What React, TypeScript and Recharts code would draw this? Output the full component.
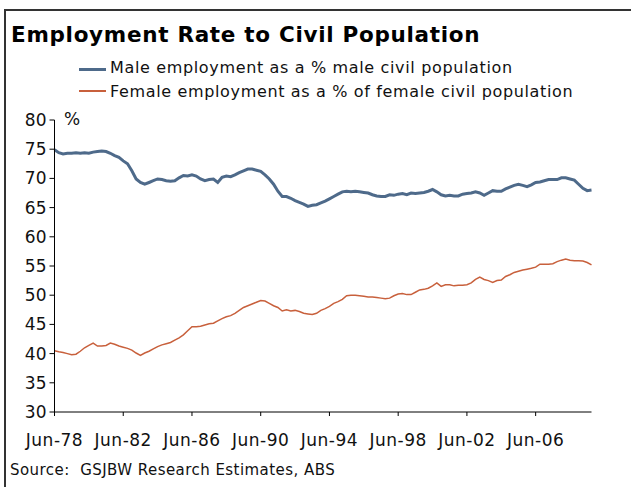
import { LineChart, Line, XAxis, YAxis } from 'recharts';

// quarterly readings, Jun-78 .. Sep-09
const male = [
  74.9, 74.4, 74.2, 74.3, 74.3, 74.4, 74.3, 74.4, 74.3, 74.5, 74.6, 74.7, 74.6, 74.3, 73.9, 73.6,
  73.0, 72.5, 71.3, 69.9, 69.3, 69.0, 69.3, 69.6, 69.9, 69.8, 69.6, 69.5, 69.6, 70.1, 70.5, 70.4,
  70.6, 70.4, 69.9, 69.6, 69.8, 69.9, 69.3, 70.2, 70.4, 70.3, 70.6, 71.0, 71.3, 71.6, 71.6, 71.4,
  71.2, 70.6, 69.9, 69.0, 67.8, 66.9, 66.9, 66.6, 66.2, 65.9, 65.6, 65.2, 65.4, 65.5, 65.8, 66.1,
  66.5, 66.9, 67.3, 67.7, 67.8, 67.7, 67.8, 67.7, 67.6, 67.5, 67.2, 67.0, 66.9, 66.9, 67.2, 67.1,
  67.3, 67.4, 67.2, 67.5, 67.4, 67.5, 67.6, 67.8, 68.1, 67.7, 67.2, 67.0, 67.1, 67.0, 67.0, 67.3,
  67.4, 67.5, 67.7, 67.5, 67.1, 67.5, 67.9, 67.8, 67.8, 68.2, 68.5, 68.8, 69.0, 68.8, 68.6, 68.9,
  69.3, 69.4, 69.6, 69.8, 69.8, 69.8, 70.1, 70.1, 69.9, 69.7, 69.0, 68.3, 67.9, 68.0,
];

const female = [
  40.5, 40.3, 40.2, 40.0, 39.8, 39.9, 40.4, 41.0, 41.4, 41.8, 41.3, 41.3, 41.4, 41.8, 41.6, 41.3,
  41.1, 40.9, 40.6, 40.1, 39.7, 40.1, 40.4, 40.8, 41.2, 41.5, 41.7, 41.9, 42.3, 42.7, 43.2, 43.9,
  44.6, 44.6, 44.7, 44.9, 45.1, 45.2, 45.6, 46.0, 46.3, 46.5, 46.9, 47.4, 47.9, 48.2, 48.5, 48.8,
  49.1, 49.0, 48.6, 48.2, 47.9, 47.3, 47.5, 47.3, 47.4, 47.2, 46.9, 46.8, 46.7, 46.9, 47.4, 47.7,
  48.1, 48.6, 48.9, 49.3, 49.9, 50.0, 50.0, 49.9, 49.8, 49.7, 49.7, 49.6, 49.5, 49.4, 49.5, 49.9,
  50.2, 50.3, 50.1, 50.1, 50.5, 50.9, 51.0, 51.2, 51.6, 52.1, 51.5, 51.8, 51.8, 51.6, 51.7, 51.7,
  51.8, 52.1, 52.7, 53.1, 52.7, 52.5, 52.2, 52.5, 52.6, 53.2, 53.5, 53.9, 54.1, 54.3, 54.45, 54.6,
  54.8, 55.3, 55.3, 55.3, 55.4, 55.75, 56.0, 56.2, 56.0, 55.9, 55.9, 55.85, 55.6, 55.2,
];

const quarterMonths = ['Jun', 'Sep', 'Dec', 'Mar'];
const xTicks = ['Jun-78', 'Jun-82', 'Jun-86', 'Jun-90', 'Jun-94', 'Jun-98', 'Jun-02', 'Jun-06'];
const yTicks = [30, 35, 40, 45, 50, 55, 60, 65, 70, 75, 80];

// label each quarter, starting Jun-78
const dates = male.map((_, i) => {
  const q = i % 4;
  const year = 1978 + Math.floor(i / 4) + (q === 3 ? 1 : 0);
  return `${quarterMonths[q]}-${String(year % 100).padStart(2, '0')}`;
});

const data = dates.map((date, i) => ({ date, male: male[i], female: female[i] }));

const font = '"DejaVu Sans", Verdana, sans-serif';

export default function App() {
  return (
    <div style={{ position: 'absolute', left: 0, top: 0, width: 631, height: 487, background: '#fff', fontFamily: font, overflow: 'hidden' }}>
      <div style={{ position: 'absolute', left: 4, top: 9, width: 2, height: 478, background: '#333' }} />
      <div style={{ position: 'absolute', left: 4, top: 9, width: 627, height: 2, background: '#333' }} />

      <div style={{ position: 'absolute', left: 11, top: 22, fontSize: 21.5, letterSpacing: 0.7, fontWeight: 'bold', color: '#000', whiteSpace: 'nowrap' }}>
        Employment Rate to Civil Population
      </div>

      <div style={{ position: 'absolute', left: 79, top: 68, width: 27, height: 3, background: '#4e6a8a' }} />
      <div style={{ position: 'absolute', left: 110, top: 58, fontSize: 16, letterSpacing: 0.65, color: '#111', whiteSpace: 'nowrap' }}>
        Male employment as a % male civil population
      </div>
      <div style={{ position: 'absolute', left: 79, top: 90, width: 27, height: 1.5, background: '#c8603c' }} />
      <div style={{ position: 'absolute', left: 110, top: 82, fontSize: 16, letterSpacing: 0.65, color: '#111', whiteSpace: 'nowrap' }}>
        Female employment as a % of female civil population
      </div>

      <div style={{ position: 'absolute', left: 64, top: 109, fontSize: 17, color: '#111' }}>%</div>

      <div style={{ position: 'absolute', left: 0 }}>
        <LineChart width={631} height={487} data={data} margin={{ top: 120, right: 39.5, bottom: 45, left: 0 }}>
          <XAxis
            dataKey="date"
            ticks={xTicks}
            interval={0}
            height={30}
            tickSize={4}
            tickMargin={18}
            stroke="#000"
            tick={{ fill: '#111', fontSize: 17, fontFamily: font, letterSpacing: 0.5 }}
          />
          <YAxis
            domain={[30, 80]}
            ticks={yTicks}
            width={54.5}
            tickSize={5}
            tickMargin={3}
            stroke="#000"
            tick={{ fill: '#111', fontSize: 17, fontFamily: font }}
          />
          <Line type="linear" dataKey="male" stroke="#4e6a8a" strokeWidth={3} dot={false} isAnimationActive={false} />
          <Line type="linear" dataKey="female" stroke="#c8603c" strokeWidth={1.5} dot={false} isAnimationActive={false} />
        </LineChart>
      </div>

      <div style={{ position: 'absolute', left: 10, top: 461, fontSize: 15, letterSpacing: 0.45, color: '#111', whiteSpace: 'nowrap' }}>
        Source:&nbsp; GSJBW Research Estimates, ABS
      </div>
    </div>
  );
}
